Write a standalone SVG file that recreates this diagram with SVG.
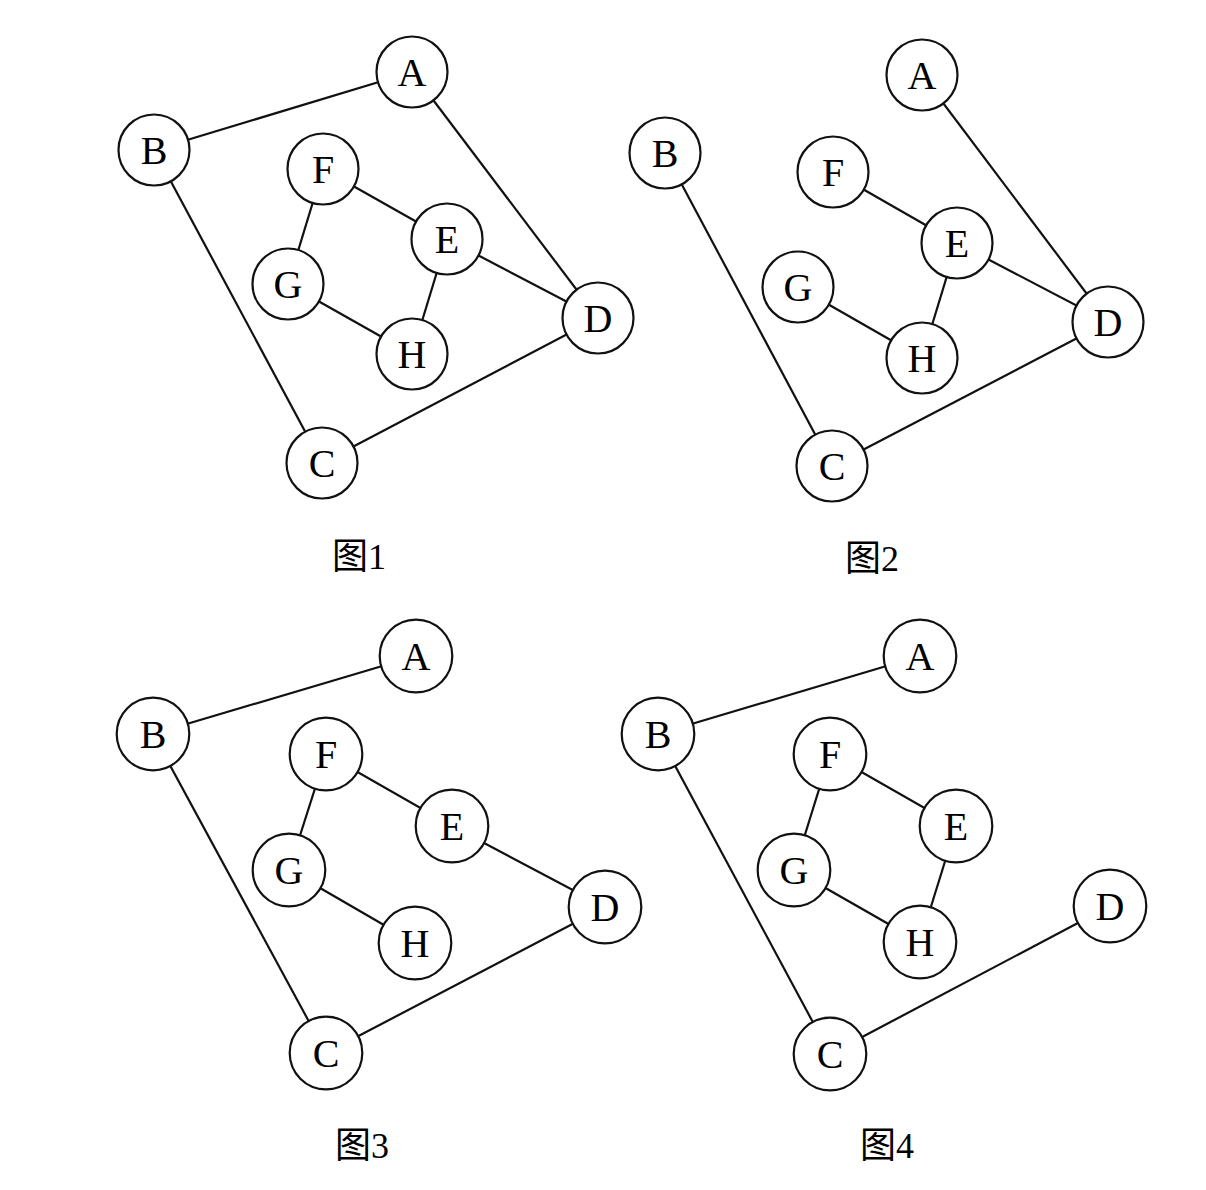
<svg xmlns="http://www.w3.org/2000/svg" width="1206" height="1190" viewBox="0 0 1206 1190">
<style>
.edge{stroke:#111;stroke-width:2.2;fill:none}
.node circle{fill:#fff;stroke:#111;stroke-width:2.2}
.node text{font-family:"Liberation Serif","Times New Roman",serif;font-size:40px;fill:#000;text-anchor:middle}
.cap{font-family:"Liberation Serif","Noto Sans CJK SC",serif;font-size:36px;fill:#000;text-anchor:middle}
</style>
<rect width="1206" height="1190" fill="#fff"/>
<g id="connectors">
<!-- graph 1 -->
<line class="edge" x1="154" y1="150" x2="412" y2="72"/>
<line class="edge" x1="412" y1="72" x2="598" y2="318"/>
<line class="edge" x1="154" y1="150" x2="322" y2="463"/>
<line class="edge" x1="322" y1="463" x2="598" y2="318"/>
<line class="edge" x1="323" y1="169" x2="447" y2="239"/>
<line class="edge" x1="323" y1="169" x2="288" y2="284"/>
<line class="edge" x1="288" y1="284" x2="412" y2="354"/>
<line class="edge" x1="412" y1="354" x2="447" y2="239"/>
<line class="edge" x1="447" y1="239" x2="598" y2="318"/>
<!-- graph 2 -->
<line class="edge" x1="922" y1="75" x2="1108" y2="322"/>
<line class="edge" x1="665" y1="153" x2="832" y2="466"/>
<line class="edge" x1="832" y1="466" x2="1108" y2="322"/>
<line class="edge" x1="833" y1="172" x2="957" y2="243"/>
<line class="edge" x1="957" y1="243" x2="1108" y2="322"/>
<line class="edge" x1="957" y1="243" x2="922" y2="358"/>
<line class="edge" x1="798" y1="287" x2="922" y2="358"/>
<!-- graph 3 -->
<line class="edge" x1="153" y1="734" x2="416" y2="656"/>
<line class="edge" x1="153" y1="734" x2="326" y2="1053"/>
<line class="edge" x1="326" y1="1053" x2="605" y2="907"/>
<line class="edge" x1="326" y1="754" x2="452" y2="826"/>
<line class="edge" x1="326" y1="754" x2="289" y2="870"/>
<line class="edge" x1="289" y1="870" x2="415" y2="943"/>
<line class="edge" x1="452" y1="826" x2="605" y2="907"/>
<!-- graph 4 -->
<line class="edge" x1="658" y1="734" x2="920" y2="656"/>
<line class="edge" x1="658" y1="734" x2="830" y2="1054"/>
<line class="edge" x1="830" y1="1054" x2="1110" y2="906"/>
<line class="edge" x1="830" y1="754" x2="956" y2="826"/>
<line class="edge" x1="830" y1="754" x2="794" y2="870"/>
<line class="edge" x1="794" y1="870" x2="920" y2="942"/>
<line class="edge" x1="920" y1="942" x2="956" y2="826"/>
</g>
<g id="graph1">
<g id="g1-A" class="node"><circle cx="412" cy="72" r="35.5"/><text x="412" y="86">A</text></g>
<g id="g1-B" class="node"><circle cx="154" cy="150" r="35.5"/><text x="154" y="164">B</text></g>
<g id="g1-F" class="node"><circle cx="323" cy="169" r="35.5"/><text x="323" y="183">F</text></g>
<g id="g1-E" class="node"><circle cx="447" cy="239" r="35.5"/><text x="447" y="253">E</text></g>
<g id="g1-G" class="node"><circle cx="288" cy="284" r="35.5"/><text x="288" y="298">G</text></g>
<g id="g1-D" class="node"><circle cx="598" cy="318" r="35.5"/><text x="598" y="332">D</text></g>
<g id="g1-H" class="node"><circle cx="412" cy="354" r="35.5"/><text x="412" y="368">H</text></g>
<g id="g1-C" class="node"><circle cx="322" cy="463" r="35.5"/><text x="322" y="477">C</text></g>
<text id="cap1" class="cap" x="359" y="569">图1</text>
</g>
<g id="graph2">
<g id="g2-A" class="node"><circle cx="922" cy="75" r="35.5"/><text x="922" y="89">A</text></g>
<g id="g2-B" class="node"><circle cx="665" cy="153" r="35.5"/><text x="665" y="167">B</text></g>
<g id="g2-F" class="node"><circle cx="833" cy="172" r="35.5"/><text x="833" y="186">F</text></g>
<g id="g2-E" class="node"><circle cx="957" cy="243" r="35.5"/><text x="957" y="257">E</text></g>
<g id="g2-G" class="node"><circle cx="798" cy="287" r="35.5"/><text x="798" y="301">G</text></g>
<g id="g2-D" class="node"><circle cx="1108" cy="322" r="35.5"/><text x="1108" y="336">D</text></g>
<g id="g2-H" class="node"><circle cx="922" cy="358" r="35.5"/><text x="922" y="372">H</text></g>
<g id="g2-C" class="node"><circle cx="832" cy="466" r="35.5"/><text x="832" y="480">C</text></g>
<text id="cap2" class="cap" x="872" y="571">图2</text>
</g>
<g id="graph3">
<g id="g3-A" class="node"><circle cx="416" cy="656" r="36.3"/><text x="416" y="670">A</text></g>
<g id="g3-B" class="node"><circle cx="153" cy="734" r="36.3"/><text x="153" y="748">B</text></g>
<g id="g3-F" class="node"><circle cx="326" cy="754" r="36.3"/><text x="326" y="768">F</text></g>
<g id="g3-E" class="node"><circle cx="452" cy="826" r="36.3"/><text x="452" y="840">E</text></g>
<g id="g3-G" class="node"><circle cx="289" cy="870" r="36.3"/><text x="289" y="884">G</text></g>
<g id="g3-D" class="node"><circle cx="605" cy="907" r="36.3"/><text x="605" y="921">D</text></g>
<g id="g3-H" class="node"><circle cx="415" cy="943" r="36.3"/><text x="415" y="957">H</text></g>
<g id="g3-C" class="node"><circle cx="326" cy="1053" r="36.3"/><text x="326" y="1067">C</text></g>
<text id="cap3" class="cap" x="362" y="1158">图3</text>
</g>
<g id="graph4">
<g id="g4-A" class="node"><circle cx="920" cy="656" r="36.3"/><text x="920" y="670">A</text></g>
<g id="g4-B" class="node"><circle cx="658" cy="734" r="36.3"/><text x="658" y="748">B</text></g>
<g id="g4-F" class="node"><circle cx="830" cy="754" r="36.3"/><text x="830" y="768">F</text></g>
<g id="g4-E" class="node"><circle cx="956" cy="826" r="36.3"/><text x="956" y="840">E</text></g>
<g id="g4-G" class="node"><circle cx="794" cy="870" r="36.3"/><text x="794" y="884">G</text></g>
<g id="g4-D" class="node"><circle cx="1110" cy="906" r="36.3"/><text x="1110" y="920">D</text></g>
<g id="g4-H" class="node"><circle cx="920" cy="942" r="36.3"/><text x="920" y="956">H</text></g>
<g id="g4-C" class="node"><circle cx="830" cy="1054" r="36.3"/><text x="830" y="1068">C</text></g>
<text id="cap4" class="cap" x="887" y="1158">图4</text>
</g>
</svg>
